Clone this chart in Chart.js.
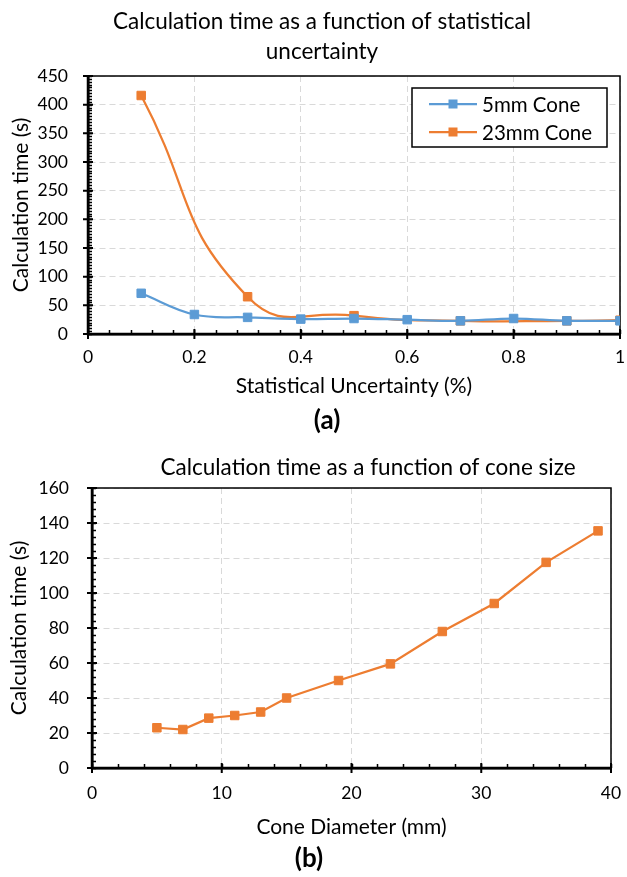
<!DOCTYPE html>
<html>
<head>
<meta charset="utf-8">
<script src="https://cdn.jsdelivr.net/npm/chart.js@4.4.0/dist/chart.umd.min.js"></script>
<style>
  html, body { margin: 0; padding: 0; background: #fff; }
  #wrapA { position: absolute; left: 0; top: 0; width: 627px; height: 440px; }
  #wrapB { position: absolute; left: 0; top: 440px; width: 627px; height: 437px; }
</style>
</head>
<body>
<div id="wrapA"><canvas id="chartA"></canvas></div>
<div id="wrapB"><canvas id="chartB"></canvas></div>
<script>
// (a) calculation time vs statistical uncertainty
const uncertainty = [0.1, 0.2, 0.3, 0.4, 0.5, 0.6, 0.7, 0.8, 0.9, 1.0]
const cone5mm = [71, 34, 29, 26, 27, 25, 23, 27, 23, 23]
const uncertainty23 = [0.1, 0.3, 0.5, 0.7, 0.9, 1.0]
const cone23mm = [416, 65, 32, 23, 23, 24]

// (b) calculation time vs cone size
const coneDiameter = [5, 7, 9, 11, 13, 15, 19, 23, 27, 31, 35, 39]
const coneTime = [23, 22, 28.5, 30, 32, 40, 50, 59.5, 78, 94, 117.5, 135.5]

const BLUE = '#5B9BD5'
const ORANGE = '#ED7D31'
const FONT = 'Lato, "Liberation Sans", sans-serif'

Chart.defaults.font.family = FONT
Chart.defaults.color = '#000'

const toPoints = (xs, ys) => xs.map((x, i) => ({ x: x, y: ys[i] }))

// frame, axis lines and major/minor tick marks drawn from the scales
const axisDecor = {
  id: 'axisDecor',
  beforeDatasetsDraw(chart, args, opts) {
    const { ctx, chartArea: a, scales: { x, y } } = chart
    ctx.save()
    ctx.setLineDash([])
    ctx.strokeStyle = '#000'
    ctx.lineWidth = 1.5
    ctx.strokeRect(a.left, a.top, a.width, a.height)
    ctx.lineWidth = 2.5
    ctx.beginPath()
    ctx.moveTo(a.left, a.top)
    ctx.lineTo(a.left, a.bottom)
    ctx.lineTo(a.right, a.bottom)
    ctx.stroke()
    ctx.lineWidth = 1.5
    ctx.beginPath()
    const nx = Math.round((x.max - x.min) / opts.xMinor)
    for (let i = 0; i <= nx; i++) {
      const px = Math.round(x.getPixelForValue(x.min + i * opts.xMinor)) + 0.5
      ctx.moveTo(px, a.bottom)
      ctx.lineTo(px, a.bottom - 4)
    }
    const ny = Math.round((y.max - y.min) / opts.yMinor)
    for (let i = 0; i <= ny; i++) {
      const py = Math.round(y.getPixelForValue(y.min + i * opts.yMinor)) + 0.5
      ctx.moveTo(a.left, py)
      ctx.lineTo(a.left + 4, py)
    }
    ctx.stroke()
    ctx.lineWidth = 2
    ctx.beginPath()
    x.ticks.forEach((t) => {
      const px = x.getPixelForValue(t.value)
      ctx.moveTo(px, a.bottom - 5)
      ctx.lineTo(px, a.bottom + 5)
    })
    y.ticks.forEach((t) => {
      const py = y.getPixelForValue(t.value)
      ctx.moveTo(a.left - 5, py)
      ctx.lineTo(a.left + 5, py)
    })
    ctx.stroke()
    ctx.restore()
  },
}

// boxed legend inside the plot, top right
const boxLegend = {
  id: 'boxLegend',
  afterDraw(chart, args, opts) {
    if (!opts.show) return
    const { ctx, chartArea: a } = chart
    const w = 195, h = 59
    const left = a.right - 13 - w
    const top = a.top + 12
    ctx.save()
    ctx.fillStyle = '#fff'
    ctx.fillRect(left, top, w, h)
    ctx.strokeStyle = '#000'
    ctx.lineWidth = 1.5
    ctx.strokeRect(left, top, w, h)
    ctx.font = '20.5px ' + FONT
    ctx.textBaseline = 'middle'
    chart.data.datasets.forEach((ds, i) => {
      const cy = top + 16 + i * 28
      ctx.strokeStyle = ds.borderColor
      ctx.lineWidth = 2.25
      ctx.beginPath()
      ctx.moveTo(left + 17, cy)
      ctx.lineTo(left + 65, cy)
      ctx.stroke()
      ctx.fillStyle = ds.borderColor
      ctx.fillRect(left + 41 - 4.5, cy - 4.5, 9, 9)
      ctx.fillStyle = '#000'
      ctx.fillText(ds.label, left + 70, cy + 1)
    })
    ctx.restore()
  },
}

// chart titles and panel letters
const captionsA = [
  { text: 'Calculation time as a function of statistical', x: 322, y: 22, font: '22.5px ' + FONT },
  { text: 'uncertainty', x: 322, y: 52, font: '22.5px ' + FONT },
  { text: '(a)', x: 327, y: 421, font: 'bold 26px ' + FONT },
]
const captionsB = [
  { text: 'Calculation time as a function of cone size', x: 368, y: 28, font: '22.5px ' + FONT },
  { text: '(b)', x: 309, y: 419, font: 'bold 26px ' + FONT },
]

function captionPlugin(items) {
  return {
    id: 'captions',
    afterDraw(chart) {
      const ctx = chart.ctx
      ctx.save()
      ctx.fillStyle = '#000'
      ctx.textAlign = 'center'
      ctx.textBaseline = 'middle'
      items.forEach((it) => {
        ctx.font = it.font
        ctx.fillText(it.text, it.x, it.y)
      })
      ctx.restore()
    },
  }
}

const fmt = (v) => String(Number(v.toFixed(2)))

function scaleOpts(min, max, step, title, titlePad, tickGap, fixSize, isX) {
  return {
    type: 'linear',
    min: min,
    max: max,
    ticks: { stepSize: step, padding: 0, font: { size: 17.5 }, color: '#000', callback: fmt },
    grid: {
      color: '#d9d9d9',
      lineWidth: 1,
      drawTicks: true,
      tickLength: tickGap,
      tickColor: 'rgba(0,0,0,0)',
    },
    border: { color: '#000', width: 2.5, dash: [6, 4] },
    title: { display: true, text: title, font: { size: 21 }, color: '#000', padding: titlePad },
    afterFit: (s) => {
      if (isX) s.height = fixSize
      else s.width = fixSize
    },
  }
}

const chartA = new Chart(document.getElementById('chartA'), {
  type: 'line',
  data: {
    datasets: [
      {
        label: '5mm Cone',
        data: toPoints(uncertainty, cone5mm),
        borderColor: BLUE,
        backgroundColor: BLUE,
        borderWidth: 2.25,
        pointStyle: 'rect',
        pointRadius: 6,
        pointBorderWidth: 1,
        tension: 0.4,
        capBezierPoints: false,
      },
      {
        label: '23mm Cone',
        data: toPoints(uncertainty23, cone23mm),
        borderColor: ORANGE,
        backgroundColor: ORANGE,
        borderWidth: 2.25,
        pointStyle: 'rect',
        pointRadius: 6,
        pointBorderWidth: 1,
        tension: 0.5,
        capBezierPoints: false,
      },
    ],
  },
  options: {
    responsive: true,
    maintainAspectRatio: false,
    animation: false,
    layout: { padding: { left: 0, right: 6, top: 76, bottom: 40 } },
    plugins: {
      legend: { display: false },
      tooltip: { enabled: false },
      title: { display: false },
      axisDecor: { xMinor: 0.04, yMinor: 5 },
      boxLegend: { show: true },
    },
    scales: {
      x: scaleOpts(0, 1, 0.2, 'Statistical Uncertainty (%)', { top: 0, bottom: 1 }, 13, 66, true),
      y: scaleOpts(0, 450, 50, 'Calculation time (s)', { top: 9, bottom: 0 }, 20, 88, false),
    },
  },
  plugins: [axisDecor, boxLegend, captionPlugin(captionsA)],
})

const chartB = new Chart(document.getElementById('chartB'), {
  type: 'line',
  data: {
    datasets: [
      {
        label: 'Calculation time',
        data: toPoints(coneDiameter, coneTime),
        borderColor: ORANGE,
        backgroundColor: ORANGE,
        borderWidth: 2.25,
        pointStyle: 'rect',
        pointRadius: 6,
        pointBorderWidth: 1,
        tension: 0,
      },
    ],
  },
  options: {
    responsive: true,
    maintainAspectRatio: false,
    animation: false,
    layout: { padding: { left: 0, right: 16, top: 48, bottom: 36 } },
    plugins: {
      legend: { display: false },
      tooltip: { enabled: false },
      title: { display: false },
      axisDecor: { xMinor: 2, yMinor: 4 },
      boxLegend: { show: false },
    },
    scales: {
      x: scaleOpts(0, 40, 10, 'Cone Diameter (mm)', { top: 0, bottom: 1 }, 15, 73, true),
      y: scaleOpts(0, 160, 20, 'Calculation time (s)', { top: 7, bottom: 0 }, 23, 92, false),
    },
  },
  plugins: [axisDecor, boxLegend, captionPlugin(captionsB)],
})
</script>
</body>
</html>
